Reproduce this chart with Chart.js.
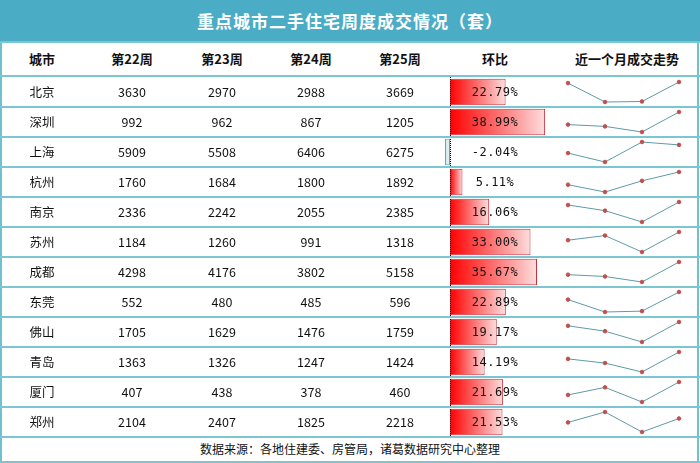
<!DOCTYPE html>
<html>
<head>
<meta charset="utf-8">
<script src="https://cdn.jsdelivr.net/npm/chart.js@4"></script>
<style>
  body { margin: 0; background: #fff; }
  #wrap { position: relative; width: 700px; height: 463px; overflow: hidden; font-family: "Noto Sans CJK SC", sans-serif; color: #111; }
  #title { position: absolute; left: 0; top: 0; width: 700px; height: 41px; background: #4bacc6; color: #fff; font-size: 17px; font-weight: bold; text-align: center; line-height: 41px; letter-spacing: 1px; }
  .frame { position: absolute; background: #6ec1cf; }
  .cell { position: absolute; width: 110px; text-align: center; font-size: 12.5px; line-height: 30px; z-index: 3; }
  .hd { font-weight: bold; font-size: 13px; line-height: 34px; }
  .pct { font-family: "DejaVu Sans Mono", monospace; font-size: 12px; letter-spacing: 0.5px; }
  .line { position: absolute; left: 0; width: 700px; height: 2px; background: #7cc6d2; z-index: 2; }
  #bars { position: absolute; left: 440px; top: 77px; width: 120px; height: 360px; z-index: 1; }
  .spark { position: absolute; left: 560px; width: 127px; height: 30px; z-index: 3; }
  #foot { position: absolute; left: 0; top: 437px; width: 700px; height: 24px; line-height: 24px; text-align: center; font-size: 12px; }
</style>
</head>
<body>
<div id="wrap">
  <div id="title">重点城市二手住宅周度成交情况（套）</div>
  <div id="foot">数据来源：各地住建委、房管局，诸葛数据研究中心整理</div>
  <canvas id="bars" width="120" height="360"></canvas>
</div>
<script>
var cities = ['北京','深圳','上海','杭州','南京','苏州','成都','东莞','佛山','青岛','厦门','郑州'];
var w22 = [3630, 992, 5909, 1760, 2336, 1184, 4298, 552, 1705, 1363, 407, 2104];
var w23 = [2970, 962, 5508, 1684, 2242, 1260, 4176, 480, 1629, 1326, 438, 2407];
var w24 = [2988, 867, 6406, 1800, 2055, 991, 3802, 485, 1476, 1247, 378, 1825];
var w25 = [3669, 1205, 6275, 1892, 2385, 1318, 5158, 596, 1759, 1424, 460, 2218];
var huanbi = [22.79, 38.99, -2.04, 5.11, 16.06, 33.00, 35.67, 22.89, 19.17, 14.19, 21.69, 21.53];
var headers = ['城市', '第22周', '第23周', '第24周', '第25周', '环比', '近一个月成交走势'];
var weeks = ['第22周', '第23周', '第24周', '第25周'];

var wrap = document.getElementById('wrap');
var colX = [42, 132, 222, 311, 400, 495, 627];
var rowTop = 77, rowH = 30;

function addDiv(cls, text, x, y) {
  var d = document.createElement('div');
  d.className = cls;
  d.textContent = text;
  d.style.left = (x - 55) + 'px';
  d.style.top = y + 'px';
  wrap.appendChild(d);
  return d;
}

// header
for (var i = 0; i < headers.length; i++) addDiv('cell hd', headers[i], colX[i], 42);

// lines
function hline(y, h) {
  var l = document.createElement('div');
  l.className = 'line';
  l.style.top = y + 'px';
  if (h) l.style.height = h + 'px';
  wrap.appendChild(l);
}
hline(41, 2);
hline(75, 2);
for (var r = 1; r <= 12; r++) hline(rowTop + r * rowH - 1, 2);
hline(461, 2);
var lb = document.createElement('div'); lb.className = 'frame';
lb.style.cssText = 'left:0;top:41px;width:2px;height:422px;';
wrap.appendChild(lb);
var rb = document.createElement('div'); rb.className = 'frame';
rb.style.cssText = 'left:697px;top:41px;width:2px;height:422px;';
wrap.appendChild(rb);

// rows
for (var r = 0; r < cities.length; r++) {
  var y = rowTop + r * rowH;
  addDiv('cell', cities[r], colX[0], y);
  addDiv('cell', w22[r], colX[1], y);
  addDiv('cell', w23[r], colX[2], y);
  addDiv('cell', w24[r], colX[3], y);
  addDiv('cell', w25[r], colX[4], y);
  addDiv('cell pct', huanbi[r].toFixed(2) + '%', colX[5], y);
}

// data bar column
var zeroLine = {
  id: 'zeroLine',
  afterDatasetsDraw: function (chart) {
    var c = chart.ctx, x = Math.round(chart.scales.x.getPixelForValue(0)) + 0.5;
    c.save();
    c.strokeStyle = '#000';
    c.lineWidth = 1;
    c.setLineDash([1, 1]);
    c.beginPath();
    c.moveTo(x, 0);
    c.lineTo(x, chart.height);
    c.stroke();
    c.restore();
  }
};

function barFill(ctx) {
  var chart = ctx.chart;
  var v = ctx.raw;
  var sx = chart.scales && chart.scales.x;
  if (!sx || typeof v !== 'number') return '#f00';
  var x0 = sx.getPixelForValue(0);
  var x1 = sx.getPixelForValue(v);
  if (!isFinite(x0) || !isFinite(x1)) return '#f00';
  var g = chart.ctx.createLinearGradient(Math.min(x0, x1), 0, Math.max(x0, x1) + 0.01, 0);
  if (v < 0) {
    g.addColorStop(0, '#cfe8ef');
    g.addColorStop(1, '#e8f4f7');
  } else {
    g.addColorStop(0, '#ff0000');
    g.addColorStop(1, '#fcdede');
  }
  return g;
}

new Chart(document.getElementById('bars'), {
  type: 'bar',
  data: {
    labels: cities,
    datasets: [{
      data: huanbi,
      backgroundColor: barFill,
      borderColor: function (ctx) { return ctx.raw < 0 ? '#4bacc6' : '#c8323c'; },
      borderWidth: 1,
      borderSkipped: false,
      barPercentage: 0.88,
      categoryPercentage: 1
    }]
  },
  options: {
    indexAxis: 'y',
    responsive: false,
    animation: false,
    layout: { padding: 0 },
    plugins: { legend: { display: false }, tooltip: { enabled: false } },
    scales: {
      x: { display: false, min: -4.1, max: 45.1 },
      y: { display: false }
    }
  },
  plugins: [zeroLine]
});

// sparklines
for (var r = 0; r < cities.length; r++) {
  var cv = document.createElement('canvas');
  cv.className = 'spark';
  cv.width = 127; cv.height = 30;
  cv.style.top = (rowTop + r * rowH) + 'px';
  wrap.appendChild(cv);
  new Chart(cv, {
    type: 'line',
    data: {
      labels: weeks,
      datasets: [{
        data: [w22[r], w23[r], w24[r], w25[r]],
        borderColor: '#5d9aa9',
        borderWidth: 1,
        pointRadius: 1.8,
        pointBackgroundColor: '#c0504d',
        pointBorderColor: '#c0504d',
        tension: 0
      }]
    },
    options: {
      responsive: false,
      animation: false,
      layout: { padding: { left: 8, right: 8, top: 4, bottom: 4 } },
      plugins: { legend: { display: false }, tooltip: { enabled: false } },
      scales: {
        x: { display: false },
        y: { display: false, bounds: 'data', grace: 0 }
      }
    }
  });
}
</script>
</body>
</html>
